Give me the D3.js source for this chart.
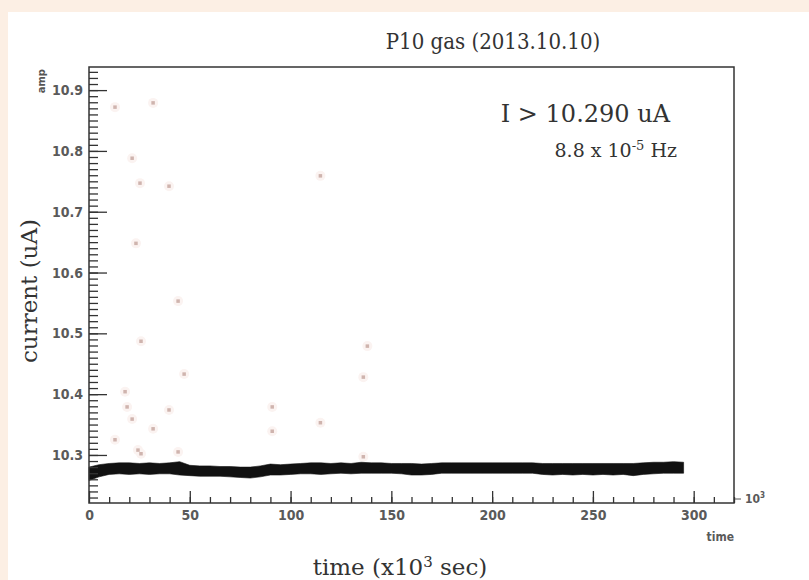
<!DOCTYPE html>
<html>
<head>
<meta charset="utf-8">
<script src="https://cdn.jsdelivr.net/npm/d3@7"></script>
<style>
  body { margin: 0; background: #fcefe4; }
  svg { display: block; }
  .tick text { font-family: "DejaVu Sans Condensed", "DejaVu Sans", sans-serif; font-stretch: condensed; font-weight: bold; fill: #5a5a5a; }
  .serif { font-family: "DejaVu Serif", serif; fill: #333; }
</style>
</head>
<body>
<div id="chart"></div>
<script>
// tick labels
const xTicks = [0, 50, 100, 150, 200, 250, 300];
const yTicks = [10.3, 10.4, 10.5, 10.6, 10.7, 10.8, 10.9];

// current band (x10^3 sec, uA): upper and lower edge of the dense black trace
const bandTime = [0, 5, 10, 15, 20, 25, 30, 35, 40, 45, 50, 55, 60, 65, 70, 75, 80, 85, 90, 95,
  100, 105, 110, 115, 120, 125, 130, 135, 140, 145, 150, 155, 160, 165, 170, 175, 180, 185, 190, 195,
  200, 205, 210, 215, 220, 225, 230, 235, 240, 245, 250, 255, 260, 265, 270, 275, 280, 285, 290, 295];
const bandHi = [10.280, 10.284, 10.286, 10.287, 10.287, 10.286, 10.287, 10.286, 10.287, 10.289,
  10.283, 10.282, 10.282, 10.281, 10.281, 10.280, 10.280, 10.282, 10.285, 10.284,
  10.285, 10.286, 10.287, 10.287, 10.286, 10.287, 10.286, 10.288, 10.287, 10.287,
  10.286, 10.286, 10.286, 10.285, 10.286, 10.287, 10.287, 10.287, 10.287, 10.287,
  10.287, 10.287, 10.287, 10.287, 10.287, 10.286, 10.286, 10.286, 10.286, 10.286,
  10.286, 10.286, 10.286, 10.286, 10.286, 10.287, 10.288, 10.288, 10.289, 10.288];
const bandLo = [10.258, 10.264, 10.268, 10.269, 10.268, 10.269, 10.268, 10.269, 10.269, 10.267,
  10.266, 10.265, 10.265, 10.265, 10.264, 10.263, 10.262, 10.264, 10.267, 10.267,
  10.268, 10.269, 10.269, 10.268, 10.269, 10.270, 10.269, 10.270, 10.270, 10.270,
  10.270, 10.269, 10.267, 10.267, 10.268, 10.270, 10.270, 10.270, 10.270, 10.270,
  10.270, 10.270, 10.270, 10.270, 10.270, 10.268, 10.267, 10.268, 10.267, 10.268,
  10.267, 10.268, 10.267, 10.268, 10.266, 10.268, 10.269, 10.270, 10.270, 10.270];

// points above threshold
const spikeTime = [12.9, 31.8, 21.4, 25.3, 39.7, 23.3, 44.2, 25.8, 47.2, 17.9, 18.9, 39.7, 21.4,
  31.8, 12.9, 24.3, 25.8, 44.2, 90.9, 90.9, 114.8, 138.1, 136.1, 114.8, 136.1];
const spikeAmp = [10.872, 10.879, 10.788, 10.747, 10.742, 10.648, 10.553, 10.487, 10.433, 10.404,
  10.379, 10.374, 10.359, 10.343, 10.325, 10.308, 10.302, 10.305, 10.379, 10.339,
  10.759, 10.479, 10.428, 10.353, 10.297];

const W = 809, H = 580;
const frame = { left: 89, right: 734, top: 67, bottom: 503 };

const svg = d3.select("#chart").append("svg")
    .attr("width", W)
    .attr("height", H);

// white panel over beige page
svg.append("rect")
    .attr("x", 8).attr("y", 12)
    .attr("width", W - 8).attr("height", H - 12)
    .attr("fill", "#ffffff");

const x = d3.scaleLinear().domain([0, 320]).range([frame.left, frame.right]);
const y = d3.scaleLinear().domain([10.221, 10.938]).range([frame.bottom, frame.top]);

// spikes: faint halo + small square
const spikes = spikeTime.map((t, i) => ({ t: t, a: spikeAmp[i] }));
svg.append("g").selectAll("circle")
    .data(spikes)
  .enter().append("circle")
    .attr("cx", d => x(d.t))
    .attr("cy", d => y(d.a))
    .attr("r", 5)
    .attr("fill", "#fbf3f1");
svg.append("g").selectAll("rect")
    .data(spikes)
  .enter().append("rect")
    .attr("x", d => x(d.t) - 1.75)
    .attr("y", d => y(d.a) - 1.75)
    .attr("width", 3.5)
    .attr("height", 3.5)
    .attr("fill", "#cfb4ae");

// black band of the current trace
const band = bandTime.map((t, i) => ({ t: t, hi: bandHi[i], lo: bandLo[i] }));
const area = d3.area()
    .x(d => x(d.t))
    .y0(d => y(d.lo))
    .y1(d => y(d.hi));
svg.append("path")
    .datum(band)
    .attr("d", area)
    .attr("fill", "#111")
    .attr("stroke", "#111")
    .attr("stroke-width", 0.6);

// y axis, ticks pointing inward
const yAxisG = svg.append("g")
    .attr("transform", `translate(${frame.left},0)`);
yAxisG.call(d3.axisLeft(y).tickValues(d3.range(1023, 1094).map(d => d / 100)).tickSize(-9).tickFormat(""));
yAxisG.append("g").call(d3.axisLeft(y).tickValues(yTicks).tickSize(-18).tickPadding(6).tickFormat(d3.format(".1f")));
yAxisG.selectAll("path.domain").remove();
yAxisG.selectAll("line").attr("stroke", "#333").attr("stroke-width", 1.3);
yAxisG.selectAll("text").style("font-size", "14px");

// x axis
const xAxisG = svg.append("g")
    .attr("transform", `translate(0,${frame.bottom})`);
xAxisG.call(d3.axisBottom(x).tickValues(d3.range(10, 321, 10)).tickSize(-6).tickFormat(""));
xAxisG.append("g").call(d3.axisBottom(x).tickValues(xTicks).tickSize(-12).tickPadding(7));
xAxisG.selectAll("path.domain").remove();
xAxisG.selectAll("line").attr("stroke", "#333").attr("stroke-width", 1.3);
xAxisG.selectAll("text").style("font-size", "14px");

// frame
svg.append("rect")
    .attr("x", frame.left).attr("y", frame.top)
    .attr("width", frame.right - frame.left)
    .attr("height", frame.bottom - frame.top)
    .attr("fill", "none")
    .attr("stroke", "#333")
    .attr("stroke-width", 1.5);

// small axis labels
svg.append("text")
    .attr("transform", `translate(${frame.left - 44},${frame.top + 2}) rotate(-90)`)
    .attr("text-anchor", "end")
    .style("font-family", "DejaVu Sans, sans-serif")
    .style("font-size", "10px")
    .style("font-weight", "bold")
    .attr("fill", "#555")
    .text("amp");

svg.append("text")
    .attr("x", frame.right).attr("y", frame.bottom + 38)
    .attr("text-anchor", "end")
    .style("font-family", "DejaVu Sans Condensed, DejaVu Sans, sans-serif")
    .style("font-size", "12px")
    .style("font-weight", "bold")
    .attr("fill", "#5a5a5a")
    .text("time");

svg.append("line")
    .attr("x1", frame.right + 1).attr("x2", frame.right + 7)
    .attr("y1", frame.bottom - 4).attr("y2", frame.bottom - 4)
    .attr("stroke", "#555").attr("stroke-width", 1);
const exp = svg.append("text")
    .attr("x", frame.right + 11).attr("y", frame.bottom)
    .style("font-family", "DejaVu Sans Condensed, DejaVu Sans, sans-serif")
    .style("font-size", "12px")
    .style("font-weight", "bold")
    .attr("fill", "#5a5a5a")
    .text("10");
exp.append("tspan").attr("dy", -5).style("font-size", "8px").text("3");

// titles
svg.append("text")
    .attr("class", "serif")
    .attr("x", 493).attr("y", 49)
    .attr("text-anchor", "middle")
    .style("font-family", "DejaVu Serif Condensed, DejaVu Serif, serif")
    .style("font-stretch", "condensed")
    .style("font-size", "22px")
    .text("P10 gas (2013.10.10)");

const xt = svg.append("text")
    .attr("class", "serif")
    .attr("x", 400).attr("y", 575)
    .attr("text-anchor", "middle")
    .style("font-size", "23px")
    .text("time (x10");
xt.append("tspan").attr("dy", -8).style("font-size", "15px").text("3");
xt.append("tspan").attr("dy", 8).text(" sec)");

svg.append("text")
    .attr("class", "serif")
    .attr("transform", "translate(37,291) rotate(-90)")
    .attr("text-anchor", "middle")
    .style("font-size", "23px")
    .text("current (uA)");

// annotation
svg.append("text")
    .attr("class", "serif")
    .attr("x", 670).attr("y", 122)
    .attr("text-anchor", "end")
    .style("font-size", "24px")
    .text("I > 10.290 uA");

const hz = svg.append("text")
    .attr("class", "serif")
    .attr("x", 677).attr("y", 157)
    .attr("text-anchor", "end")
    .style("font-size", "19px")
    .text("8.8 x 10");
hz.append("tspan").attr("dy", -7).style("font-size", "13px").text("-5");
hz.append("tspan").attr("dy", 7).text(" Hz");
</script>
</body>
</html>
